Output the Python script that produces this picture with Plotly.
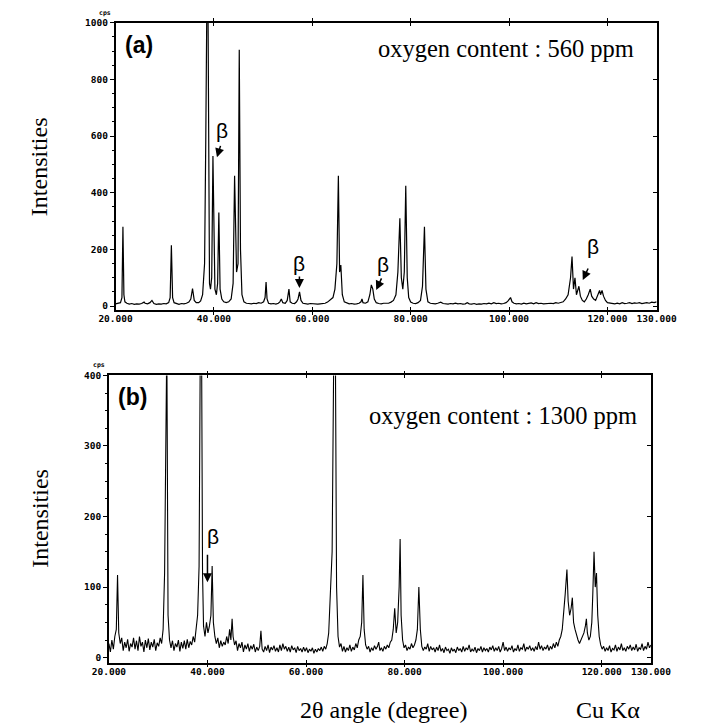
import plotly.graph_objects as go

# ---------------- data ----------------
# (a) oxygen content 560 ppm : 2theta (deg) and intensity (cps)
top_x = [20.0, 20.5, 21.0, 21.3, 21.5, 21.7, 21.9, 22.3, 22.8, 23.3, 23.8, 24.3, 24.8, 25.3, 25.8, 26.0, 26.5, 27.0, 27.4, 27.8,
         28.3, 28.8, 29.3, 29.8, 30.3, 30.8, 31.1, 31.35, 31.6, 31.9, 32.4, 32.9, 33.4, 33.9, 34.4, 34.9, 35.3, 35.65, 36.0, 36.4,
         36.9, 37.3, 37.7, 38.1, 38.35, 38.5, 38.62, 38.75, 38.9, 39.1, 39.3, 39.55, 39.8, 40.0, 40.2, 40.5, 40.75, 41.0, 41.25, 41.6,
         42.0, 42.5, 43.0, 43.5, 43.9, 44.2, 44.4, 44.6, 44.9, 45.15, 45.4, 45.7, 46.1, 46.6, 47.1, 47.6, 48.1, 48.6, 49.1, 49.6,
         50.1, 50.4, 50.6, 50.8, 51.1, 51.6, 52.1, 52.6, 53.1, 53.4, 53.7, 54.0, 54.5, 54.9, 55.25, 55.5, 55.9, 56.4, 56.8, 57.1,
         57.4, 57.7, 58.1, 58.6, 59.1, 59.6, 60.1, 60.6, 61.1, 61.6, 62.1, 62.6, 63.1, 63.6, 64.2, 64.6, 65.0, 65.3, 65.55, 65.8,
         66.1, 66.5, 67.0, 67.5, 68.0, 68.5, 69.0, 69.5, 69.9, 70.1, 70.3, 70.8, 71.3, 71.7, 72.0, 72.3, 72.6, 73.0, 73.5, 74.0,
         74.5, 75.0, 75.5, 76.0, 76.5, 77.0, 77.4, 77.8, 78.1, 78.4, 78.7, 79.0, 79.3, 79.6, 80.0, 80.5, 81.0, 81.5, 82.0, 82.4,
         82.8, 83.1, 83.5, 84.0, 84.5, 85.0, 85.5, 86.1, 86.6, 87.1, 87.6, 88.1, 88.6, 89.1, 89.6, 90.1, 90.6, 91.1, 91.5, 91.9,
         92.4, 92.9, 93.4, 93.9, 94.4, 94.9, 95.4, 95.9, 96.4, 96.9, 97.4, 97.9, 98.4, 98.9, 99.4, 99.8, 100.3, 100.6, 101.0, 101.5,
         102.0, 102.5, 103.0, 103.5, 104.0, 104.5, 105.0, 105.5, 106.0, 106.5, 107.0, 107.5, 108.0, 108.5, 109.0, 109.5, 110.0, 110.5, 111.0, 111.5,
         112.0, 112.5, 112.8, 113.1, 113.4, 113.7, 114.0, 114.2, 114.5, 114.9, 115.3, 115.7, 116.1, 116.5, 116.8, 117.2, 117.6, 118.0, 118.4, 118.6,
         118.9, 119.2, 119.6, 120.0, 120.5, 121.0, 121.5, 122.0, 122.5, 123.0, 123.5, 124.0, 124.5, 125.0, 125.5, 126.0, 126.5, 127.0, 127.5, 128.0,
         128.5, 129.0, 129.5, 130.0]
top_y = [8, 10, 12, 30, 280, 40, 15, 10, 7, 9, 6, 8, 7, 9, 14, 10, 8, 12, 20, 9,
         6, 8, 7, 9, 8, 12, 30, 215, 30, 12, 8, 6, 9, 8, 10, 14, 25, 62, 20, 12,
         12, 18, 40, 150, 600, 1200, 1200, 1200, 400, 80, 60, 100, 530, 150, 60, 40, 80, 330, 60, 25,
         15, 12, 15, 25, 80, 460, 200, 120, 150, 905, 200, 40, 15, 10, 9, 8, 10, 9, 12, 10,
         15, 30, 85, 25, 10, 8, 9, 7, 10, 15, 25, 12, 10, 20, 60, 15, 10, 9, 15, 25,
         50, 20, 10, 8, 7, 9, 8, 9, 7, 8, 9, 10, 14, 20, 30, 60, 150, 460, 120, 145,
         40, 15, 10, 8, 9, 7, 8, 10, 15, 25, 12, 10, 15, 40, 75, 60, 25, 12, 9, 8,
         10, 9, 10, 14, 20, 40, 120, 310, 100, 60, 120, 425, 100, 30, 14, 10, 9, 12, 20, 70,
         280, 60, 15, 10, 9, 8, 10, 14, 9, 8, 7, 9, 8, 10, 8, 9, 7, 8, 12, 8,
         7, 9, 6, 8, 7, 9, 8, 10, 8, 12, 9, 10, 8, 9, 12, 18, 30, 15, 10, 8,
         9, 7, 10, 8, 9, 11, 8, 12, 9, 10, 8, 9, 8, 10, 9, 12, 10, 12, 15, 25,
         40, 100, 175, 60, 100, 40, 55, 70, 35, 20, 15, 25, 40, 60, 35, 25, 20, 35, 55, 40,
         55, 35, 20, 12, 10, 9, 8, 10, 8, 12, 9, 10, 12, 9, 11, 10, 12, 9, 10, 12,
         10, 14, 12, 15]

# (b) oxygen content 1300 ppm
bot_x = [20.0, 20.3, 20.6, 20.9, 21.2, 21.5, 21.75, 22.0, 22.3, 22.6, 22.9, 23.2, 23.5, 23.8, 24.1, 24.4, 24.7, 25.0, 25.3, 25.6,
         25.9, 26.2, 26.5, 26.8, 27.1, 27.4, 27.7, 28.0, 28.3, 28.6, 28.9, 29.2, 29.5, 29.8, 30.1, 30.4, 30.7, 31.0, 31.3, 31.6,
         31.75, 32.0, 32.3, 32.6, 32.9, 33.2, 33.5, 33.8, 34.1, 34.4, 34.7, 35.0, 35.3, 35.6, 35.9, 36.2, 36.5, 36.8, 37.1, 37.4,
         37.7, 38.0, 38.3, 38.55, 38.8, 39.0, 39.2, 39.5, 39.8, 40.1, 40.4, 40.7, 40.95, 41.2, 41.5, 41.8, 42.1, 42.4, 42.7, 43.0,
         43.3, 43.6, 43.9, 44.2, 44.5, 44.75, 45.0, 45.2, 45.5, 45.8, 46.1, 46.4, 46.7, 47.0, 47.3, 47.6, 47.9, 48.2, 48.5, 48.8,
         49.1, 49.4, 49.7, 50.0, 50.3, 50.6, 50.85, 51.1, 51.4, 51.7, 52.0, 52.3, 52.6, 52.9, 53.2, 53.5, 53.8, 54.1, 54.4, 54.7,
         55.0, 55.3, 55.6, 55.9, 56.2, 56.5, 56.8, 57.1, 57.4, 57.7, 58.0, 58.3, 58.6, 58.9, 59.2, 59.5, 59.8, 60.1, 60.4, 60.7,
         61.0, 61.3, 61.6, 61.9, 62.2, 62.5, 62.8, 63.1, 63.4, 63.7, 64.0, 64.3, 64.6, 64.9, 65.3, 65.65, 65.8, 65.95, 66.2, 66.5,
         66.8, 67.1, 67.4, 67.7, 68.0, 68.3, 68.6, 68.9, 69.2, 69.5, 69.8, 70.1, 70.4, 70.7, 71.0, 71.3, 71.55, 71.8, 72.1, 72.4,
         72.7, 73.0, 73.3, 73.6, 73.9, 74.2, 74.5, 74.75, 75.0, 75.3, 75.6, 75.9, 76.2, 76.5, 76.8, 77.1, 77.4, 77.7, 78.0, 78.3,
         78.6, 78.9, 79.1, 79.3, 79.6, 79.9, 80.2, 80.5, 80.8, 81.1, 81.4, 81.7, 82.0, 82.3, 82.6, 82.9, 83.2, 83.5, 83.8, 84.1,
         84.4, 84.7, 85.0, 85.3, 85.6, 85.9, 86.2, 86.5, 86.8, 87.1, 87.4, 87.7, 88.0, 88.3, 88.6, 88.9, 89.2, 89.5, 89.8, 90.1,
         90.4, 90.7, 91.0, 91.3, 91.6, 91.9, 92.2, 92.5, 92.8, 93.1, 93.4, 93.7, 94.0, 94.3, 94.6, 94.9, 95.2, 95.5, 95.8, 96.1,
         96.4, 96.7, 97.0, 97.3, 97.6, 97.9, 98.2, 98.5, 98.8, 99.1, 99.4, 99.7, 100.0, 100.3, 100.6, 100.9, 101.2, 101.5, 101.8, 102.1,
         102.4, 102.7, 103.0, 103.3, 103.6, 103.9, 104.2, 104.5, 104.8, 105.1, 105.4, 105.7, 106.0, 106.3, 106.6, 106.9, 107.2, 107.5, 107.8, 108.1,
         108.4, 108.7, 109.0, 109.3, 109.6, 109.9, 110.2, 110.5, 110.8, 111.1, 111.4, 111.7, 112.0, 112.3, 112.6, 112.95, 113.2, 113.5, 113.8, 114.05,
         114.3, 114.6, 114.9, 115.2, 115.5, 115.8, 116.1, 116.4, 116.7, 116.9, 117.1, 117.4, 117.7, 118.0, 118.2, 118.45, 118.7, 118.95, 119.2, 119.5,
         119.8, 120.1, 120.4, 120.7, 121.0, 121.3, 121.6, 121.9, 122.2, 122.5, 122.8, 123.1, 123.4, 123.7, 124.0, 124.3, 124.6, 124.9, 125.2, 125.5,
         125.8, 126.1, 126.4, 126.7, 127.0, 127.3, 127.6, 127.9, 128.2, 128.5, 128.8, 129.1, 129.4, 129.7, 130.0]
bot_y = [20, 8, 25, 12, 30, 40, 117, 35, 20, 28, 10, 22, 14, 26, 9, 20, 15, 28, 12, 24,
         10, 30, 16, 22, 8, 25, 14, 27, 11, 22, 15, 26, 10, 21, 16, 28, 20, 40, 120, 450,
         450, 60, 25, 14, 24, 10, 20, 15, 25, 9, 22, 13, 24, 12, 26, 14, 23, 18, 30, 22,
         40, 60, 130, 450, 450, 120, 45, 30, 50, 35, 45, 60, 130, 50, 30, 20, 28, 14, 24, 16,
         22, 18, 30, 20, 40, 25, 55, 30, 18, 24, 10, 20, 14, 22, 8, 18, 12, 20, 9, 17,
         12, 19, 8, 15, 10, 16, 38, 12, 8, 16, 10, 18, 7, 15, 11, 17, 9, 14, 8, 18,
         10, 20, 12, 16, 9, 15, 8, 17, 11, 14, 7, 16, 10, 13, 8, 15, 9, 14, 7, 12,
         9, 14, 6, 12, 8, 13, 10, 15, 9, 16, 12, 20, 35, 80, 150, 450, 450, 450, 100, 30,
         15, 20, 9, 16, 8, 14, 10, 18, 9, 15, 11, 20, 14, 25, 30, 50, 117, 40, 18, 12,
         16, 8, 14, 10, 17, 12, 16, 22, 10, 14, 9, 16, 12, 18, 14, 22, 25, 40, 70, 35,
         50, 100, 168, 60, 25, 14, 18, 10, 15, 12, 20, 14, 18, 25, 40, 100, 40, 16, 10, 15,
         12, 20, 9, 16, 11, 14, 8, 15, 10, 18, 9, 13, 7, 15, 10, 12, 6, 14, 9, 12,
         7, 15, 10, 13, 8, 16, 9, 14, 11, 18, 8, 12, 9, 15, 7, 13, 10, 16, 8, 14,
         10, 13, 8, 15, 11, 17, 9, 14, 10, 16, 8, 13, 22, 10, 15, 9, 14, 11, 17, 8,
         13, 10, 18, 9, 14, 12, 20, 9, 15, 12, 17, 10, 14, 9, 16, 11, 22, 12, 17, 10,
         15, 12, 18, 10, 16, 12, 20, 14, 22, 16, 25, 30, 40, 60, 90, 125, 80, 60, 70, 85,
         50, 40, 30, 25, 20, 25, 30, 35, 45, 55, 35, 25, 30, 50, 90, 150, 100, 120, 60, 30,
         18, 12, 16, 9, 14, 10, 17, 8, 13, 11, 18, 9, 15, 11, 20, 10, 14, 9, 16, 12,
         18, 10, 15, 11, 19, 9, 14, 12, 20, 10, 16, 12, 22, 14, 18]

x_ticks = [20, 40, 60, 80, 100, 120, 130]
x_ticktext = ["20.000", "40.000", "60.000", "80.000", "100.000", "120.000", "130.000"]
top_yticks = [0, 200, 400, 600, 800, 1000]
bot_yticks = [0, 100, 200, 300, 400]

# beta markers: (arrow tip x, arrow tip y, label x, label y)
top_beta_tip_x = [40.62, 57.38, 72.99, 114.99]
top_beta_tip_y = [525, 64, 57, 92]
top_beta_lab_x = [41.6, 57.2, 74.3, 117.1]
top_beta_lab_y = [619, 150, 147, 210]
top_beta_dx = [4, 0, 6, 6]
bot_beta_tip_x = [40.0]
bot_beta_tip_y = [107]
bot_beta_lab_x = [41.15]
bot_beta_lab_y = [171]

# ---------------- figure ----------------
W, H = 706, 724
tickfont = dict(family="DejaVu Sans Mono", size=9.5, color="black", weight="bold")
serif = "Liberation Serif"

fig = go.Figure()
fig.add_trace(go.Scatter(x=top_x, y=top_y, mode="lines", line=dict(color="black", width=1.2),
                         xaxis="x", yaxis="y", showlegend=False, hoverinfo="skip"))
fig.add_trace(go.Scatter(x=bot_x, y=bot_y, mode="lines", line=dict(color="black", width=1.1),
                         xaxis="x2", yaxis="y2", showlegend=False, hoverinfo="skip"))
# dummy traces for right-side inner tick axes
fig.add_trace(go.Scatter(x=[None], y=[None], xaxis="x", yaxis="y3", showlegend=False, hoverinfo="skip"))
fig.add_trace(go.Scatter(x=[None], y=[None], xaxis="x2", yaxis="y4", showlegend=False, hoverinfo="skip"))

def px_x(p):
    return p / W

def px_y(p):
    return 1 - p / H

xcommon = dict(range=[20, 130], tickvals=x_ticks, ticktext=x_ticktext, tickfont=tickfont,
               showline=True, linecolor="black", linewidth=1.5, mirror="allticks",
               ticks="inside", ticklen=3, tickcolor="black", showgrid=False, zeroline=False,
               ticklabelstandoff=-1, fixedrange=True)
ycommon = dict(tickfont=tickfont, showline=True, linecolor="black", linewidth=1.5, mirror=True,
               ticks="outside", ticklen=4, tickcolor="black", showgrid=False, zeroline=False,
               fixedrange=True)

fig.update_layout(
    width=W, height=H, margin=dict(l=0, r=0, t=0, b=0),
    paper_bgcolor="white", plot_bgcolor="white",
    xaxis=dict(domain=[px_x(104), px_x(675)], anchor="y", **xcommon),
    yaxis=dict(domain=[px_y(307), px_y(17)], anchor="x", range=[-14, 1000], tickvals=top_yticks,
               minor=dict(ticks="outside", ticklen=2, dtick=50, tickcolor="black"), **ycommon),
    xaxis2=dict(domain=[px_x(97), px_x(669)], anchor="y2", **xcommon),
    yaxis2=dict(domain=[px_y(663), px_y(373)], anchor="x2", range=[-7, 400], tickvals=bot_yticks,
                minor=dict(ticks="outside", ticklen=2, dtick=25, tickcolor="black"), **ycommon),
    yaxis3=dict(overlaying="y", side="right", anchor="x", range=[-14, 1000], tickvals=top_yticks,
                showticklabels=False, ticks="inside", ticklen=4, tickcolor="black", showgrid=False,
                zeroline=False, showline=False, fixedrange=True),
    yaxis4=dict(overlaying="y2", side="right", anchor="x2", range=[-7, 400], tickvals=bot_yticks,
                showticklabels=False, ticks="inside", ticklen=4, tickcolor="black", showgrid=False,
                zeroline=False, showline=False, fixedrange=True),
)

ann = []
def text(x, y, s, size, family, xanchor="center", angle=0, weight="normal"):
    ann.append(dict(xref="paper", yref="paper", x=x, y=y, text=s, showarrow=False,
                    xanchor=xanchor, yanchor="middle", textangle=angle,
                    font=dict(family=family, size=size, color="black", weight=weight)))

text(px_x(129), px_y(39), "(a)", 23, "Liberation Sans", weight="bold")
text(px_x(122), px_y(395), "(b)", 23, "Liberation Sans", weight="bold")
text(px_x(653), px_y(43), "oxygen content : 560 ppm", 24.5, serif, xanchor="right")
text(px_x(656), px_y(413), "oxygen content : 1300 ppm", 24.5, serif, xanchor="right")
text(px_x(24), px_y(162), "Intensities", 24, serif, angle=-90)
text(px_x(24), px_y(517), "Intensities", 24, serif, angle=-90)
text(px_x(387), px_y(711), "2θ angle (degree)", 24, serif)
text(px_x(624), px_y(711), "Cu Kα", 24, serif)
text(px_x(93), px_y(7), "cps", 6.5, "DejaVu Sans Mono", weight="bold")
text(px_x(87), px_y(363), "cps", 6.5, "DejaVu Sans Mono", weight="bold")

for tx, ty, lx, ly, dx in zip(top_beta_tip_x, top_beta_tip_y, top_beta_lab_x, top_beta_lab_y, top_beta_dx):
    ann.append(dict(xref="x", yref="y", x=lx, y=ly, text="β", showarrow=False,
                    font=dict(family="Liberation Sans", size=21, color="black")))
    ann.append(dict(xref="x", yref="y", x=tx, y=ty, text="", showarrow=True, ax=dx, ay=-13,
                    arrowhead=2, arrowsize=1.2, arrowwidth=1.5, arrowcolor="black", standoff=0))
for tx, ty, lx, ly in zip(bot_beta_tip_x, bot_beta_tip_y, bot_beta_lab_x, bot_beta_lab_y):
    ann.append(dict(xref="x2", yref="y2", x=lx, y=ly, text="β", showarrow=False,
                    font=dict(family="Liberation Sans", size=21, color="black")))
    ann.append(dict(xref="x2", yref="y2", x=tx, y=ty, text="", showarrow=True, ax=0, ay=-29,
                    arrowhead=2, arrowsize=1.2, arrowwidth=1.5, arrowcolor="black", standoff=0))

fig.update_layout(annotations=ann)
fig.write_html("out.html")
